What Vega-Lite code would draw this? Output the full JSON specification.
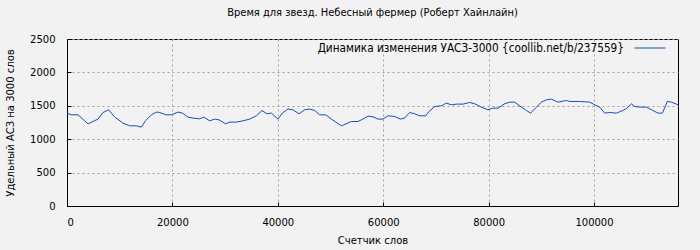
{
  "$schema": "https://vega.github.io/schema/vega-lite/v6.json",
  "width": 611,
  "height": 167,
  "autosize": {"type": "none"},
  "padding": {"left": 67, "top": 39, "right": 22, "bottom": 44},
  "background": "#f2f2f2",
  "title": {
    "text": "Время для звезд. Небесный фермер (Роберт Хайнлайн)",
    "font": "DejaVu Sans Condensed, DejaVu Sans",
    "fontSize": 11,
    "fontWeight": "normal",
    "color": "#000000",
    "anchor": "middle",
    "frame": "group",
    "offset": 14
  },
  "config": {
    "view": {"stroke": "#000000", "strokeWidth": 1, "fill": "#f2f2f2"},
    "font": "DejaVu Sans",
    "axis": {
      "labelFont": "DejaVu Sans",
      "labelFontSize": 10,
      "labelColor": "#000000",
      "titleFont": "DejaVu Sans",
      "titleFontSize": 10,
      "titleFontWeight": "normal",
      "titleColor": "#000000",
      "domainColor": "#000000",
      "tickColor": "#000000",
      "gridColor": "#a0a0a0",
      "gridDash": [2, 3],
      "gridWidth": 1
    }
  },
  "data": {
    "values": [
      {"words": 0, "asz": 1391},
      {"words": 835, "asz": 1365},
      {"words": 2087, "asz": 1365},
      {"words": 3985, "asz": 1230},
      {"words": 5882, "asz": 1301},
      {"words": 6831, "asz": 1400},
      {"words": 7913, "asz": 1440},
      {"words": 9051, "asz": 1331},
      {"words": 10626, "asz": 1241},
      {"words": 11897, "asz": 1200},
      {"words": 13169, "asz": 1200},
      {"words": 14117, "asz": 1181},
      {"words": 14933, "asz": 1280},
      {"words": 16015, "asz": 1365},
      {"words": 16964, "asz": 1406},
      {"words": 17590, "asz": 1400},
      {"words": 18728, "asz": 1365},
      {"words": 19810, "asz": 1365},
      {"words": 21062, "asz": 1406},
      {"words": 21897, "asz": 1391},
      {"words": 22960, "asz": 1331},
      {"words": 23909, "asz": 1316},
      {"words": 25180, "asz": 1305},
      {"words": 25939, "asz": 1331},
      {"words": 27077, "asz": 1275},
      {"words": 28026, "asz": 1301},
      {"words": 28842, "asz": 1290},
      {"words": 30114, "asz": 1230},
      {"words": 30873, "asz": 1256},
      {"words": 32144, "asz": 1256},
      {"words": 33396, "asz": 1275},
      {"words": 34667, "asz": 1301},
      {"words": 35939, "asz": 1350},
      {"words": 37001, "asz": 1430},
      {"words": 37950, "asz": 1380},
      {"words": 38785, "asz": 1391},
      {"words": 40037, "asz": 1301},
      {"words": 40872, "asz": 1391},
      {"words": 41935, "asz": 1451},
      {"words": 42884, "asz": 1440},
      {"words": 44022, "asz": 1380},
      {"words": 45104, "asz": 1440},
      {"words": 46052, "asz": 1451},
      {"words": 47001, "asz": 1430},
      {"words": 47950, "asz": 1365},
      {"words": 49089, "asz": 1365},
      {"words": 50170, "asz": 1301},
      {"words": 52068, "asz": 1200},
      {"words": 53965, "asz": 1265},
      {"words": 55217, "asz": 1265},
      {"words": 56166, "asz": 1301},
      {"words": 57111, "asz": 1345},
      {"words": 58064, "asz": 1335},
      {"words": 59012, "asz": 1301},
      {"words": 59961, "asz": 1301},
      {"words": 60910, "asz": 1350},
      {"words": 62181, "asz": 1340},
      {"words": 63263, "asz": 1301},
      {"words": 64079, "asz": 1316},
      {"words": 65028, "asz": 1400},
      {"words": 65976, "asz": 1380},
      {"words": 66925, "asz": 1350},
      {"words": 68064, "asz": 1350},
      {"words": 68690, "asz": 1415},
      {"words": 69772, "asz": 1490},
      {"words": 71043, "asz": 1500},
      {"words": 71992, "asz": 1540},
      {"words": 72941, "asz": 1515},
      {"words": 73890, "asz": 1525},
      {"words": 75142, "asz": 1525},
      {"words": 76413, "asz": 1550},
      {"words": 77362, "asz": 1530},
      {"words": 78633, "asz": 1480},
      {"words": 79885, "asz": 1440},
      {"words": 80834, "asz": 1465},
      {"words": 81783, "asz": 1465},
      {"words": 83054, "asz": 1530},
      {"words": 84003, "asz": 1555},
      {"words": 84952, "asz": 1555},
      {"words": 86223, "asz": 1480},
      {"words": 87172, "asz": 1430},
      {"words": 87988, "asz": 1390},
      {"words": 89070, "asz": 1480},
      {"words": 90018, "asz": 1555},
      {"words": 90967, "asz": 1590},
      {"words": 91916, "asz": 1600},
      {"words": 93168, "asz": 1555},
      {"words": 94762, "asz": 1580},
      {"words": 95388, "asz": 1565},
      {"words": 97286, "asz": 1565},
      {"words": 99183, "asz": 1555},
      {"words": 100132, "asz": 1515},
      {"words": 101081, "asz": 1480},
      {"words": 102030, "asz": 1390},
      {"words": 102978, "asz": 1400},
      {"words": 104250, "asz": 1390},
      {"words": 105502, "asz": 1430},
      {"words": 106261, "asz": 1465},
      {"words": 107096, "asz": 1530},
      {"words": 107722, "asz": 1490},
      {"words": 108671, "asz": 1480},
      {"words": 109942, "asz": 1480},
      {"words": 111194, "asz": 1430},
      {"words": 112143, "asz": 1390},
      {"words": 112978, "asz": 1390},
      {"words": 113927, "asz": 1565},
      {"words": 114686, "asz": 1555},
      {"words": 115635, "asz": 1525},
      {"words": 115939, "asz": 1515}
    ]
  },
  "mark": {"type": "line", "strokeWidth": 1, "interpolate": "linear"},
  "encoding": {
    "x": {
      "field": "words",
      "type": "quantitative",
      "scale": {"domain": [0, 115940], "nice": false, "zero": true},
      "axis": {
        "title": "Счетчик слов",
        "values": [0, 20000, 40000, 60000, 80000, 100000],
        "format": "d",
        "tickSize": -4,
        "labelPadding": 15,
        "titlePadding": 8,
        "grid": true
      }
    },
    "y": {
      "field": "asz",
      "type": "quantitative",
      "scale": {"domain": [0, 2500], "nice": false},
      "axis": {
        "title": "Удельный АСЗ на 3000 слов",
        "values": [0, 500, 1000, 1500, 2000, 2500],
        "format": "d",
        "tickSize": -4,
        "labelPadding": 16,
        "titlePadding": 14,
        "grid": true
      }
    },
    "color": {
      "datum": "Динамика изменения УАСЗ-3000 {coollib.net/b/237559}",
      "type": "nominal",
      "scale": {"range": ["#1550b0"]},
      "legend": {
        "title": null,
        "orient": "none",
        "legendX": 567,
        "legendY": -7,
        "padding": 0,
        "symbolType": "stroke",
        "symbolSize": 961,
        "symbolStrokeWidth": 1,
        "labelAlign": "right",
        "labelOffset": -42,
        "labelFont": "DejaVu Sans Condensed, DejaVu Sans",
        "labelFontSize": 11.7,
        "labelColor": "#000000",
        "labelLimit": 500
      }
    }
  }
}
